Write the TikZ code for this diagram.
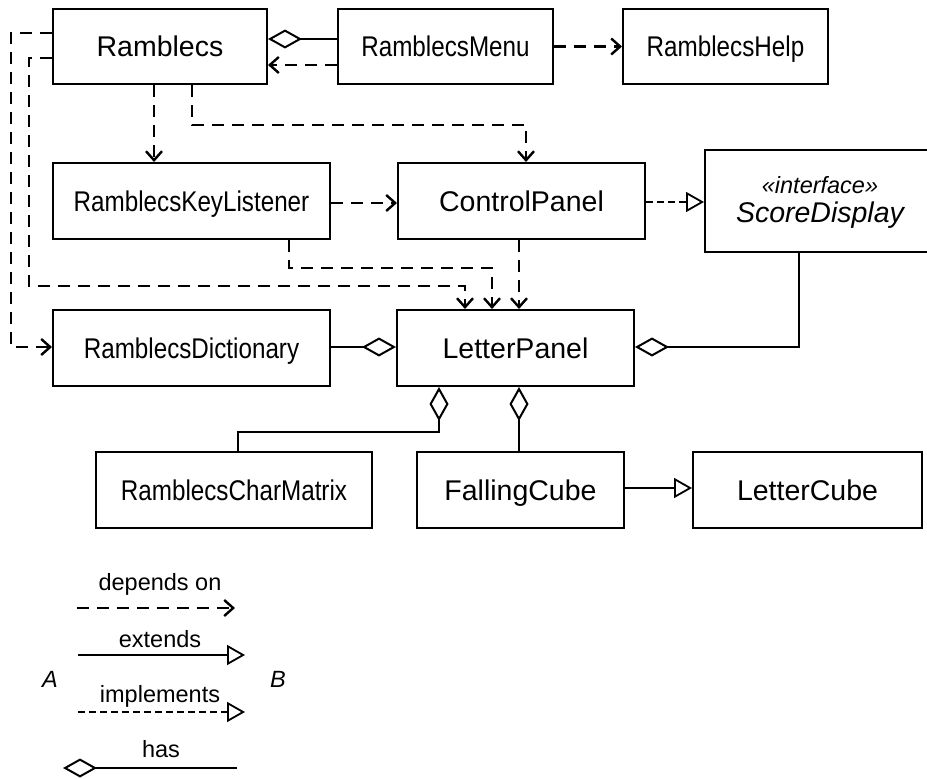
\documentclass[tikz,border=0pt]{standalone}
\usepackage{fontspec}
\setmainfont{Liberation Sans}
\newfontfamily\narrowfont[FakeStretch=0.85]{Liberation Sans}
\usetikzlibrary{arrows.meta}
\begin{document}
\begin{tikzpicture}[x=1pt,y=-1pt,
  box/.style={draw,line width=2pt,inner sep=0pt,text height=20.5pt,text depth=0pt,font=\fontsize{28.5}{34}\selectfont},
  nbox/.style={box,font=\narrowfont\fontsize{28.5}{34}\selectfont},
  dep/.style={line width=2.2pt,dash pattern=on 12pt off 8pt,-{Straight Barb[length=9pt,width=16pt,line width=2.4pt]}},
  impl/.style={line width=1.4pt,dash pattern=on 7pt off 4pt,-{Triangle[fill=white,length=18pt,width=20pt,line width=1.8pt]}},
  ext/.style={line width=1.8pt,-{Triangle[fill=white,length=18pt,width=20pt]}},
  has/.style={line width=2pt,-{Diamond[fill=white,length=34pt,width=19pt]}},
  lgd/.style={font=\fontsize{23.5}{28}\selectfont,anchor=base,inner sep=0pt}]
\useasboundingbox (0,0) rectangle (927,779);
\fill[white] (0,0) rectangle (927,779);
% classes
\node[box,minimum width=214pt,minimum height=75pt] (ramb) at (160,46.5) {Ramblecs};
\node[nbox,minimum width=215pt,minimum height=75pt] (menu) at (445.5,46.5) {RamblecsMenu};
\node[nbox,minimum width=205pt,minimum height=75pt] (help) at (725.5,46.5) {RamblecsHelp};
\node[nbox,minimum width=277pt,minimum height=76pt] (key) at (191.5,201) {RamblecsKeyListener};
\node[box,minimum width=247pt,minimum height=76pt] (ctrl) at (521.5,201) {ControlPanel};
\node[box,minimum width=230pt,minimum height=102pt] (score) at (820,201) {};
\node[font=\fontsize{23.5}{28}\selectfont\itshape,anchor=base,inner sep=0pt] (scorest) at (820,193) {«interface»};
\node[font=\fontsize{28.5}{34}\selectfont\itshape,anchor=base,inner sep=0pt] (scorename) at (820,222) {ScoreDisplay};
\node[nbox,minimum width=277pt,minimum height=76pt] (dict) at (191.5,348) {RamblecsDictionary};
\node[box,minimum width=237pt,minimum height=76pt] (letter) at (515.5,348) {LetterPanel};
\node[nbox,minimum width=276pt,minimum height=76pt] (charm) at (234,490) {RamblecsCharMatrix};
\node[box,minimum width=207pt,minimum height=76pt] (fall) at (520.5,490) {FallingCube};
\node[box,minimum width=229pt,minimum height=76pt] (lcube) at (807.5,490) {LetterCube};
% connectors
\draw[has] (menu.west |- 0,39) -- (ramb.east |- 0,39);
\draw[dep] (menu.west |- 0,65) -- (ramb.east |- 0,65);
\draw[dep] (menu.east) -- (help.west);
\draw[dep] (ramb.west |- 0,33) -| (11,347) -- (dict.west |- 0,347);
\draw[dep] (ramb.west |- 0,58) -| (29,286) -| (letter.north -| 465,0);
\draw[dep] (ramb.south -| 154,0) -- (key.north -| 154,0);
\draw[dep] (ramb.south -| 192,0) -- (192,125) -| (ctrl.north -| 526,0);
\draw[dep] (key.east |- 0,203) -- (ctrl.west |- 0,203);
\draw[dep] (key.south -| 289,0) -- (289,268) -| (letter.north -| 492,0);
\draw[dep] (ctrl.south -| 519,0) -- (letter.north -| 519,0);
\draw[impl] (ctrl.east |- 0,202) -- (score.west |- 0,202);
\draw[has] (score.south -| 799,0) |- (letter.east |- 0,347);
\draw[has] (dict.east |- 0,347) -- (letter.west |- 0,347);
\draw[has] (charm.north -| 238,0) -- (238,432) -| (letter.south -| 439,0);
\draw[has] (fall.north -| 519,0) -- (letter.south -| 519,0);
\draw[ext] (fall.east |- 0,488) -- (lcube.west |- 0,488);
% legend
\node[lgd] (ldep) at (160,590) {depends on};
\coordinate (d1) at (77,608); \coordinate (d2) at (235,608);
\draw[dep] (d1) -- (d2);
\node[lgd] (lext) at (160,647) {extends};
\coordinate (e1) at (78,655); \coordinate (e2) at (245,655);
\draw[ext] (e1) -- (e2);
\node[lgd,font=\fontsize{23.5}{28}\selectfont\itshape] (la) at (50,687) {A};
\node[lgd,font=\fontsize{23.5}{28}\selectfont\itshape] (lb) at (278,687) {B};
\node[lgd] (limpl) at (160,702) {implements};
\coordinate (i1) at (78,712); \coordinate (i2) at (245,712);
\draw[impl] (i1) -- (i2);
\node[lgd] (lhas) at (161,757) {has};
\coordinate (h1) at (237,768); \coordinate (h2) at (63,768);
\draw[has] (h1) -- (h2);
\end{tikzpicture}
\end{document}
